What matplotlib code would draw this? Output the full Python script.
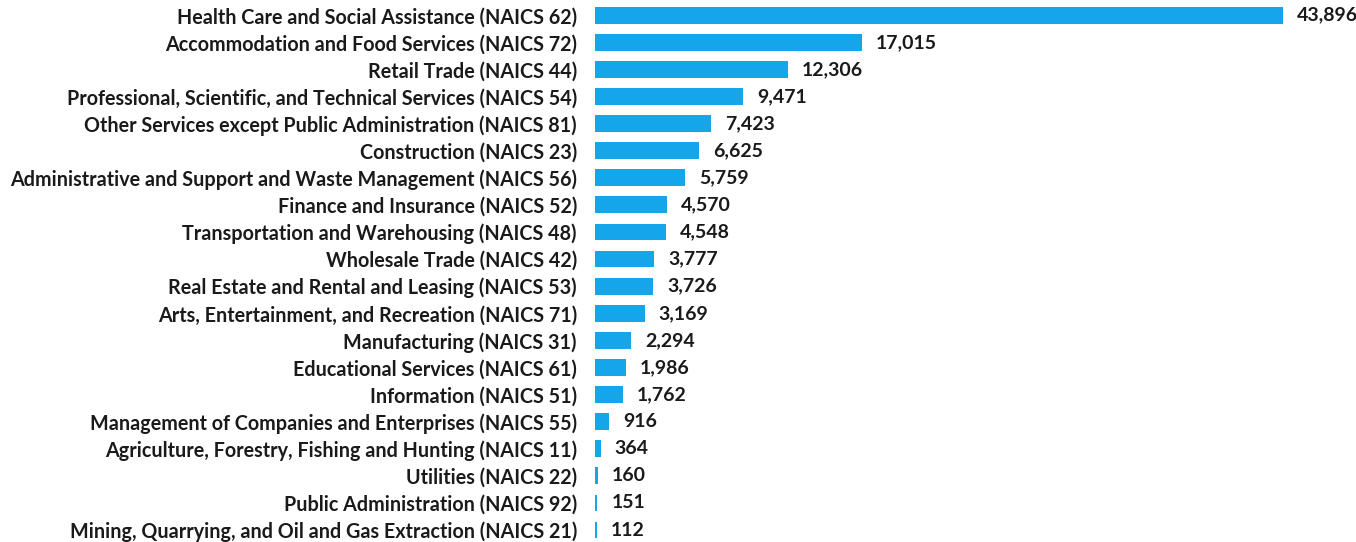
import matplotlib.pyplot as plt

plt.rcParams['font.family'] = ['Lato', 'DejaVu Sans']

industries = [
    "Health Care and Social Assistance (NAICS 62)",
    "Accommodation and Food Services (NAICS 72)",
    "Retail Trade (NAICS 44)",
    "Professional, Scientific, and Technical Services (NAICS 54)",
    "Other Services except Public Administration (NAICS 81)",
    "Construction (NAICS 23)",
    "Administrative and Support and Waste Management (NAICS 56)",
    "Finance and Insurance (NAICS 52)",
    "Transportation and Warehousing (NAICS 48)",
    "Wholesale Trade (NAICS 42)",
    "Real Estate and Rental and Leasing (NAICS 53)",
    "Arts, Entertainment, and Recreation (NAICS 71)",
    "Manufacturing (NAICS 31)",
    "Educational Services (NAICS 61)",
    "Information (NAICS 51)",
    "Management of Companies and Enterprises (NAICS 55)",
    "Agriculture, Forestry, Fishing and Hunting (NAICS 11)",
    "Utilities (NAICS 22)",
    "Public Administration (NAICS 92)",
    "Mining, Quarrying, and Oil and Gas Extraction (NAICS 21)",
]
counts = [43896, 17015, 12306, 9471, 7423, 6625, 5759, 4570, 4548, 3777,
          3726, 3169, 2294, 1986, 1762, 916, 364, 160, 151, 112]

fig = plt.figure(figsize=(13.56, 5.42), dpi=100)
ax = fig.add_axes([0.4388, -0.003, 0.5074, 1.0])

y = range(len(industries))
ax.barh(y, counts, height=0.62, color='#14A6E9')
for i, v in enumerate(counts):
    ax.annotate(f"{v:,}", (v, i), xytext=(10, 0), textcoords='offset points',
                va='center', ha='left', fontsize=14, fontweight='bold',
                color='#1a1a1a', annotation_clip=False)

ax.set_xlim(0, 43896)
ax.set_ylim(len(industries) - 0.5, -0.5)
ax.set_yticks(list(y))
ax.set_yticklabels(industries, fontsize=14.2, fontweight='bold', color='#1a1a1a')
ax.tick_params(axis='y', length=0, pad=13)
ax.set_xticks([])
for s in ax.spines.values():
    s.set_visible(False)

fig.savefig("out.png", dpi=100)
